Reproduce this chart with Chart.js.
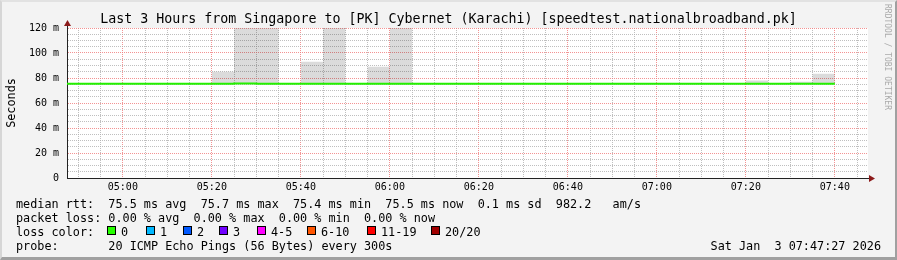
<!DOCTYPE html>
<html>
<head>
<meta charset="utf-8">
<script src="https://cdn.jsdelivr.net/npm/chart.js@4.4.1/dist/chart.umd.min.js"></script>
<style>
html, body { margin: 0; padding: 0; background: #f3f3f3; }
#frame {
    position: absolute; left: 0; top: 0; width: 897px; height: 260px;
    box-sizing: border-box; background: #f3f3f3;
    border-left: 2px solid #d6d6d6; border-top: 2px solid #e2e2e2;
    border-right: 2px solid #a0a0a0; border-bottom: 3px solid #a0a0a0;
}
canvas { position: absolute; left: 0; top: 0; }
.t { position: absolute; font-family: "DejaVu Sans Mono", monospace; white-space: pre; color: #000; }
.leg { font-size: 11.8px; line-height: 14px; left: 16px; }
.box { position: absolute; width: 7px; height: 7px; border: 1px solid #000; top: 226px; }
</style>
</head>
<body>
<div id="frame"></div>
<canvas id="chart" width="897" height="260"></canvas>

<div class="t" style="left:0; width:897px; top:11px; font-size:13.3px; line-height:16px; text-align:center;">Last 3 Hours from Singapore to [PK] Cybernet (Karachi) [speedtest.nationalbroadband.pk]</div>
<div class="t" style="left:-64px; width:150px; top:95px; font-size:11.8px; line-height:16px; text-align:center; transform:rotate(-90deg);">Seconds</div>
<div class="t" style="left:881px; top:4px; font-size:8px; line-height:12px; color:#aaaaaa; writing-mode:vertical-rl;">RRDTOOL / TOBI OETIKER</div>

<div class="t leg" style="top:197px;">median rtt:  75.5 ms avg  75.7 ms max  75.4 ms min  75.5 ms now  0.1 ms sd  982.2   am/s</div>
<div class="t leg" style="top:211px;">packet loss: 0.00 % avg  0.00 % max  0.00 % min  0.00 % now</div>
<div class="t leg" style="top:225px;">loss color:</div>
<div id="lossLegend"></div>
<div class="t leg" style="top:239px;">probe:       20 ICMP Echo Pings (56 Bytes) every 300s</div>
<div class="t leg" style="top:239px; left:0; width:881px; text-align:right;">Sat Jan  3 07:47:27 2026</div>

<script>
// sample end times (5 min steps), median rtt and smoke top in ms
var times = ['04:45', '04:50', '04:55', '05:00', '05:05', '05:10', '05:15', '05:20', '05:25', '05:30',
             '05:35', '05:40', '05:45', '05:50', '05:55', '06:00', '06:05', '06:10', '06:15', '06:20',
             '06:25', '06:30', '06:35', '06:40', '06:45', '06:50', '06:55', '07:00', '07:05', '07:10',
             '07:15', '07:20', '07:25', '07:30', '07:35', '07:40'];
var medianRtt = [75.5, 75.5, 75.5, 75.5, 75.5, 75.5, 75.5, 75.5, 75.5, 75.7,
                 75.5, 75.5, 75.5, 75.4, 75.5, 75.5, 75.5, 75.5, 75.5, 75.5,
                 75.5, 75.5, 75.5, 75.5, 75.5, 75.5, 75.5, 75.5, 75.5, 75.5,
                 75.5, 75.5, 75.5, 75.5, 75.5, 75.5];
var smokeTop = [75.5, 75.5, 75.5, 75.5, 75.5, 75.5, 75.5, 75.5, 85, 120,
                120, 75.5, 93, 120, 75.5, 89, 120, 75.5, 75.5, 75.5,
                75.5, 75.5, 75.5, 75.5, 75.5, 75.5, 75.5, 75.5, 75.5, 75.5,
                75.5, 75.5, 78, 75.5, 77, 83.5];

var windowStart = '04:47:27';
var windowEnd = '07:47:27';
var xTickLabels = ['05:00', '05:20', '05:40', '06:00', '06:20', '06:40', '07:00', '07:20', '07:40'];
var yTickValues = [0, 20, 40, 60, 80, 100, 120];
var yTickLabels = ['0', '20 m', '40 m', '60 m', '80 m', '100 m', '120 m'];

var lossLabels = ['0', '1', '2', '3', '4-5', '6-10', '11-19', '20/20'];
var lossColors = ['#26ff00', '#00b8ff', '#0059ff', '#7000ff', '#ff00ff', '#ff5500', '#ff0000', '#a00000'];
var lossBoxX = [107, 146, 183, 219, 257, 307, 367, 431];

function toMin(s) {
    var p = s.split(':');
    return +p[0] * 60 + +p[1] + (p[2] ? +p[2] / 60 : 0);
}

// loss colour legend
var lossEl = document.getElementById('lossLegend');
lossLabels.forEach(function (lab, i) {
    var b = document.createElement('div');
    b.className = 'box';
    b.style.left = lossBoxX[i] + 'px';
    b.style.background = lossColors[i];
    lossEl.appendChild(b);
    var t = document.createElement('div');
    t.className = 't leg';
    t.style.top = '225px';
    t.style.left = (lossBoxX[i] + 14) + 'px';
    t.textContent = lab;
    lossEl.appendChild(t);
});

var xs = times.map(toMin);
var medianPts = xs.map(function (x, i) { return {x: x, y: medianRtt[i]}; });
var smokePts = xs.map(function (x, i) { return {x: x, y: smokeTop[i]}; });

var majorColor = 'rgba(240, 120, 120, 0.8)';
var minorColor = 'rgba(175, 175, 175, 0.8)';

var plotFrame = {
    id: 'plotFrame',
    beforeDraw: function (chart) {
        var a = chart.chartArea, c = chart.ctx;
        c.save();
        c.fillStyle = '#ffffff';
        c.fillRect(a.left, a.top, a.right - a.left, a.bottom - a.top);
        c.restore();
    },
    afterDraw: function (chart) {
        var a = chart.chartArea, c = chart.ctx;
        c.save();
        c.strokeStyle = '#222222';
        c.lineWidth = 1;
        c.beginPath();
        c.moveTo(a.left + 0.5, a.top);
        c.lineTo(a.left + 0.5, a.top - 3);
        c.moveTo(a.right, a.bottom + 0.5);
        c.lineTo(a.right + 2, a.bottom + 0.5);
        c.stroke();
        c.fillStyle = '#8c1a1a';
        c.beginPath();
        c.moveTo(a.left + 0.5, a.top - 8);
        c.lineTo(a.left + 4, a.top - 2);
        c.lineTo(a.left - 3, a.top - 2);
        c.closePath();
        c.fill();
        c.beginPath();
        c.moveTo(a.right + 7, a.bottom + 0.5);
        c.lineTo(a.right + 1, a.bottom - 3);
        c.lineTo(a.right + 1, a.bottom + 4);
        c.closePath();
        c.fill();
        c.restore();
    }
};

var monoFont = {family: 'DejaVu Sans Mono', size: 10};
var gridColor = function (ctx) {
    return ctx.tick && ctx.tick.value % 20 === 0 ? majorColor : minorColor;
};

window.chart = new Chart(document.getElementById('chart'), {
    type: 'line',
    data: {
        datasets: [{
            label: 'median rtt',
            data: medianPts,
            borderColor: '#24f000',
            borderWidth: 2,
            stepped: 'after',
            fill: false,
            clip: 0
        }, {
            label: 'smoke',
            data: smokePts,
            borderWidth: 0,
            borderColor: 'rgba(0,0,0,0)',
            backgroundColor: 'rgba(0,0,0,0.14)',
            stepped: 'after',
            fill: 0,
            clip: 0
        }]
    },
    options: {
        responsive: false,
        animation: false,
        devicePixelRatio: 1,
        layout: {padding: {top: 28, right: 29, left: 0, bottom: 0}},
        elements: {point: {radius: 0, hoverRadius: 0}},
        plugins: {legend: {display: false}, tooltip: {enabled: false}, title: {display: false}},
        scales: {
            x: {
                type: 'linear',
                min: toMin(windowStart),
                max: toMin(windowEnd),
                afterBuildTicks: function (scale) {
                    var ticks = [];
                    for (var m = 290; m <= 465; m += 5) ticks.push({value: m});
                    scale.ticks = ticks;
                },
                afterFit: function (scale) { scale.height = 82; },
                ticks: {
                    autoSkip: false, maxRotation: 0, padding: 3, color: '#000', font: monoFont,
                    callback: function (v) {
                        var i = xTickLabels.map(toMin).indexOf(v);
                        return i >= 0 ? xTickLabels[i] : '';
                    }
                },
                grid: {drawTicks: false, lineWidth: 1, color: gridColor},
                border: {display: true, color: '#222222', width: 1, dash: [1, 1]}
            },
            y: {
                min: 0,
                max: 120,
                afterFit: function (scale) { scale.width = 67; },
                ticks: {
                    stepSize: 5, autoSkip: false, padding: 8, color: '#000', font: monoFont,
                    callback: function (v) {
                        var i = yTickValues.indexOf(v);
                        return i >= 0 ? yTickLabels[i] : '';
                    }
                },
                grid: {drawTicks: false, lineWidth: 1, color: gridColor},
                border: {display: true, color: '#222222', width: 1, dash: [1, 1]}
            }
        }
    },
    plugins: [plotFrame]
});
</script>
</body>
</html>
